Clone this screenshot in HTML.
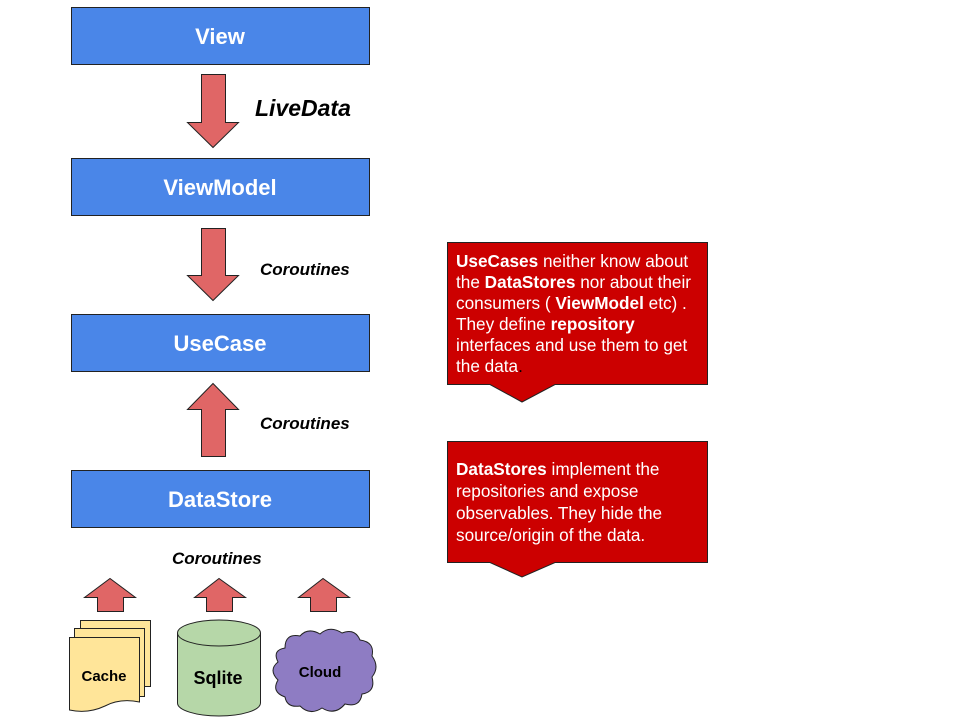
<!DOCTYPE html>
<html><head><meta charset="utf-8"><style>html,body{margin:0;padding:0;background:#fff}svg{display:block}</style></head>
<body>
<svg width="960" height="720" xmlns="http://www.w3.org/2000/svg" font-family="Liberation Sans, Arial, sans-serif">
<g fill="#4a86e8" stroke="#222" stroke-width="1">
<rect x="71.5" y="7.5" width="298" height="57"/>
<rect x="71.5" y="158.5" width="298" height="57"/>
<rect x="71.5" y="314.5" width="298" height="57"/>
<rect x="71.5" y="470.5" width="298" height="57"/>
</g>
<g fill="#fff" font-weight="bold" font-size="22" text-anchor="middle">
<text x="220" y="44">View</text>
<text x="220" y="195">ViewModel</text>
<text x="220" y="351">UseCase</text>
<text x="220" y="507">DataStore</text>
</g>
<g fill="#e06666" stroke="#222" stroke-width="1">
<polygon points="201.5,74.5 225.5,74.5 225.5,122.5 238.5,122.5 213,147.5 187.5,122.5 201.5,122.5"/>
<polygon points="201.5,228.5 225.5,228.5 225.5,275.5 238.5,275.5 213,300.5 187.5,275.5 201.5,275.5"/>
<polygon points="201.5,456.5 225.5,456.5 225.5,409.5 238.5,409.5 213,383.5 187.5,409.5 201.5,409.5"/>
<polygon points="97.5,611.5 123.5,611.5 123.5,597.5 135.5,597.5 110,578.5 84.5,597.5 97.5,597.5"/>
<polygon points="206.5,611.5 232.5,611.5 232.5,597.5 245.5,597.5 219,578.5 194.5,597.5 206.5,597.5"/>
<polygon points="310.5,611.5 336.5,611.5 336.5,597.5 349.5,597.5 323,578.5 298.5,597.5 310.5,597.5"/>
</g>
<g font-weight="bold" font-style="italic" fill="#000">
<text x="255" y="116" font-size="23">LiveData</text>
<text x="260" y="275" font-size="17">Coroutines</text>
<text x="260" y="429" font-size="17">Coroutines</text>
<text x="172" y="564" font-size="17">Coroutines</text>
</g>
<g fill="#ffe599" stroke="#222" stroke-width="1">
<rect x="80.5" y="620.5" width="70" height="66"/>
<rect x="74.5" y="628.5" width="70" height="68"/>
<path d="M69.5,637.5 H139.5 V702 Q120,698 105,706 Q88,714 69.5,710 Z"/>
</g>
<text x="104" y="681" font-size="15" font-weight="bold" text-anchor="middle">Cache</text>
<g fill="#b6d7a8" stroke="#222" stroke-width="1">
<path d="M177.5,633 V703 A41.5,13 0 0 0 260.5,703 V633"/>
<ellipse cx="219" cy="633" rx="41.5" ry="13"/>
</g>
<text x="218" y="684" font-size="18" font-weight="bold" text-anchor="middle">Sqlite</text>
<path fill="#8e7cc3" stroke="#222" stroke-width="1" d="M285,648 Q285,633 300,636 Q308,627 320,634 Q330,625 342,633 Q355,628 360,640 Q375,642 372,656 Q380,667 372,677 Q376,692 362,694 Q360,708 345,704 Q335,716 322,708 Q310,716 300,706 Q287,708 285,697 Q271,692 278,680 Q268,670 278,662 Q272,650 285,648 Z"/>
<text x="320" y="677" font-size="15" font-weight="bold" text-anchor="middle">Cloud</text>
<g fill="#cc0000" stroke="#222" stroke-width="1">
<path d="M447.5,242.5 H707.5 V384.5 H555 L522,402 L490,384.5 H447.5 Z"/>
<path d="M447.5,441.5 H707.5 V562.5 H555 L522,577 L490,562.5 H447.5 Z"/>
</g>
<g fill="#fff" font-size="17.2">
<text x="456" y="267"><tspan font-weight="bold">UseCases</tspan> neither know about</text>
<text x="456" y="288">the <tspan font-weight="bold">DataStores</tspan> nor about their</text>
<text x="456" y="309">consumers ( <tspan font-weight="bold">ViewModel</tspan> etc) .</text>
<text x="456" y="330">They define <tspan font-weight="bold">repository</tspan></text>
<text x="456" y="351">interfaces and use them to get</text>
<text x="456" y="372">the data<tspan fill="#000">.</tspan></text>
<text x="456" y="475"><tspan font-weight="bold">DataStores</tspan> implement the</text>
<text x="456" y="497">repositories and expose</text>
<text x="456" y="519">observables. They hide the</text>
<text x="456" y="541">source/origin of the data.</text>
</g>
</svg>
</body></html>
